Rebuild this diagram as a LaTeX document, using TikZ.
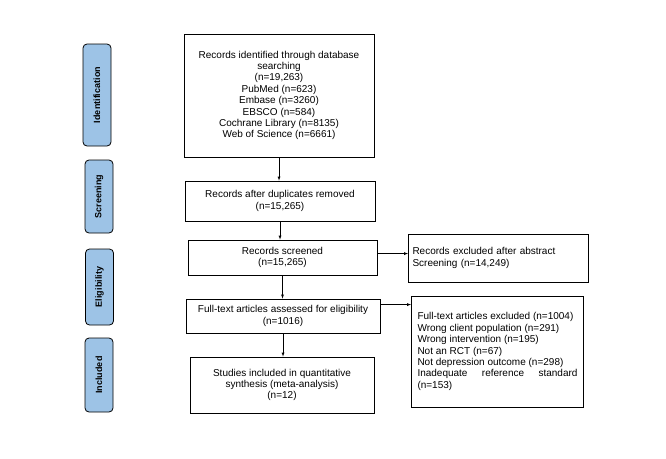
\documentclass[tikz,border=0pt]{standalone}
\usepackage{fontspec}
\setmainfont{Liberation Sans}
\usetikzlibrary{positioning}
\definecolor{stageblue}{HTML}{9DC3E6}
\begin{document}
\begin{tikzpicture}[x=1pt,y=-1pt,
                    stagenode/.style={rectangle, rounded corners=4pt, draw, thick, fill=stageblue, minimum width=28pt, font=\fontsize{9}{10}\selectfont\bfseries},
                    boxnode/.style={rectangle, draw, thick, align=center, inner sep=2pt, font=\fontsize{10}{11.4}\selectfont},
                    sidenode/.style={rectangle, draw, thick, align=justify, inner sep=4pt, font=\fontsize{10}{11.4}\selectfont},
                   ]
    \useasboundingbox (0,0) rectangle (666,458);
    % Stages
    \node[stagenode, minimum height=102pt] (ident)  at (97,95)    {\rotatebox{90}{Identification}};
    \node[stagenode, minimum height=73pt]  (screen) at (99,196.5) {\rotatebox{90}{Screening}};
    \node[stagenode, minimum height=76pt]  (elig)   at (99.5,287) {\rotatebox{90}{Eligibility}};
    \node[stagenode, minimum height=74pt]  (incl)   at (99,375)   {\rotatebox{90}{Included}};

    % Boxes
    \node[boxnode, minimum width=190pt, minimum height=123pt] (identified) at (279,95.5)
        {Records identified through database\\searching\\(n=19,263)\\PubMed (n=623)\\Embase (n=3260)\\EBSCO (n=584)\\Cochrane Library (n=8135)\\Web of Science (n=6661)};
    \node[boxnode, minimum width=190pt, minimum height=40pt] (duplicates) at (280,201)
        {Records after duplicates removed\\(n=15,265)};
    \node[boxnode, minimum width=189pt, minimum height=35pt] (screened) at (282.5,257.5)
        {Records screened\\(n=15,265)};
    \node[boxnode, minimum width=194pt, minimum height=34pt] (fulltext) at (283,316)
        {Full-text articles assessed for eligibility\\(n=1016)};
    \node[boxnode, minimum width=184pt, minimum height=56pt] (included) at (282,385)
        {Studies included in quantitative\\synthesis (meta-analysis)\\(n=12)};
    \node[sidenode, text width=172pt, minimum height=48pt, align=left] (excluded_abs) at (498.5,258)
        {Records excluded after abstract\\Screening (n=14,249)};
    \node[sidenode, text width=160pt, inner xsep=6pt, minimum height=111pt] (excluded_full) at (497.5,351.5)
        {Full-text articles excluded (n=1004)\\Wrong client population (n=291)\\Wrong intervention (n=195)\\Not an RCT (n=67)\\Not depression outcome (n=298)\\Inadequate reference standard (n=153)};

    % Lines
    \draw[-latex] (identified.south) -- (identified.south |- duplicates.north);
    \draw[-latex] (duplicates.south) -- (duplicates.south |- screened.north);
    \draw[-latex] (screened.south) -- (screened.south |- fulltext.north);
    \draw[-latex] (fulltext.south) -- (fulltext.south |- included.north);
    \draw[-latex] ([yshift=-14pt]screened.north east) -- ([yshift=-14pt]screened.north east -| excluded_abs.west);
    \draw[-latex] ([yshift=-6pt]fulltext.north east) -- ([yshift=-6pt]fulltext.north east -| excluded_full.west);
\end{tikzpicture}
\end{document}
